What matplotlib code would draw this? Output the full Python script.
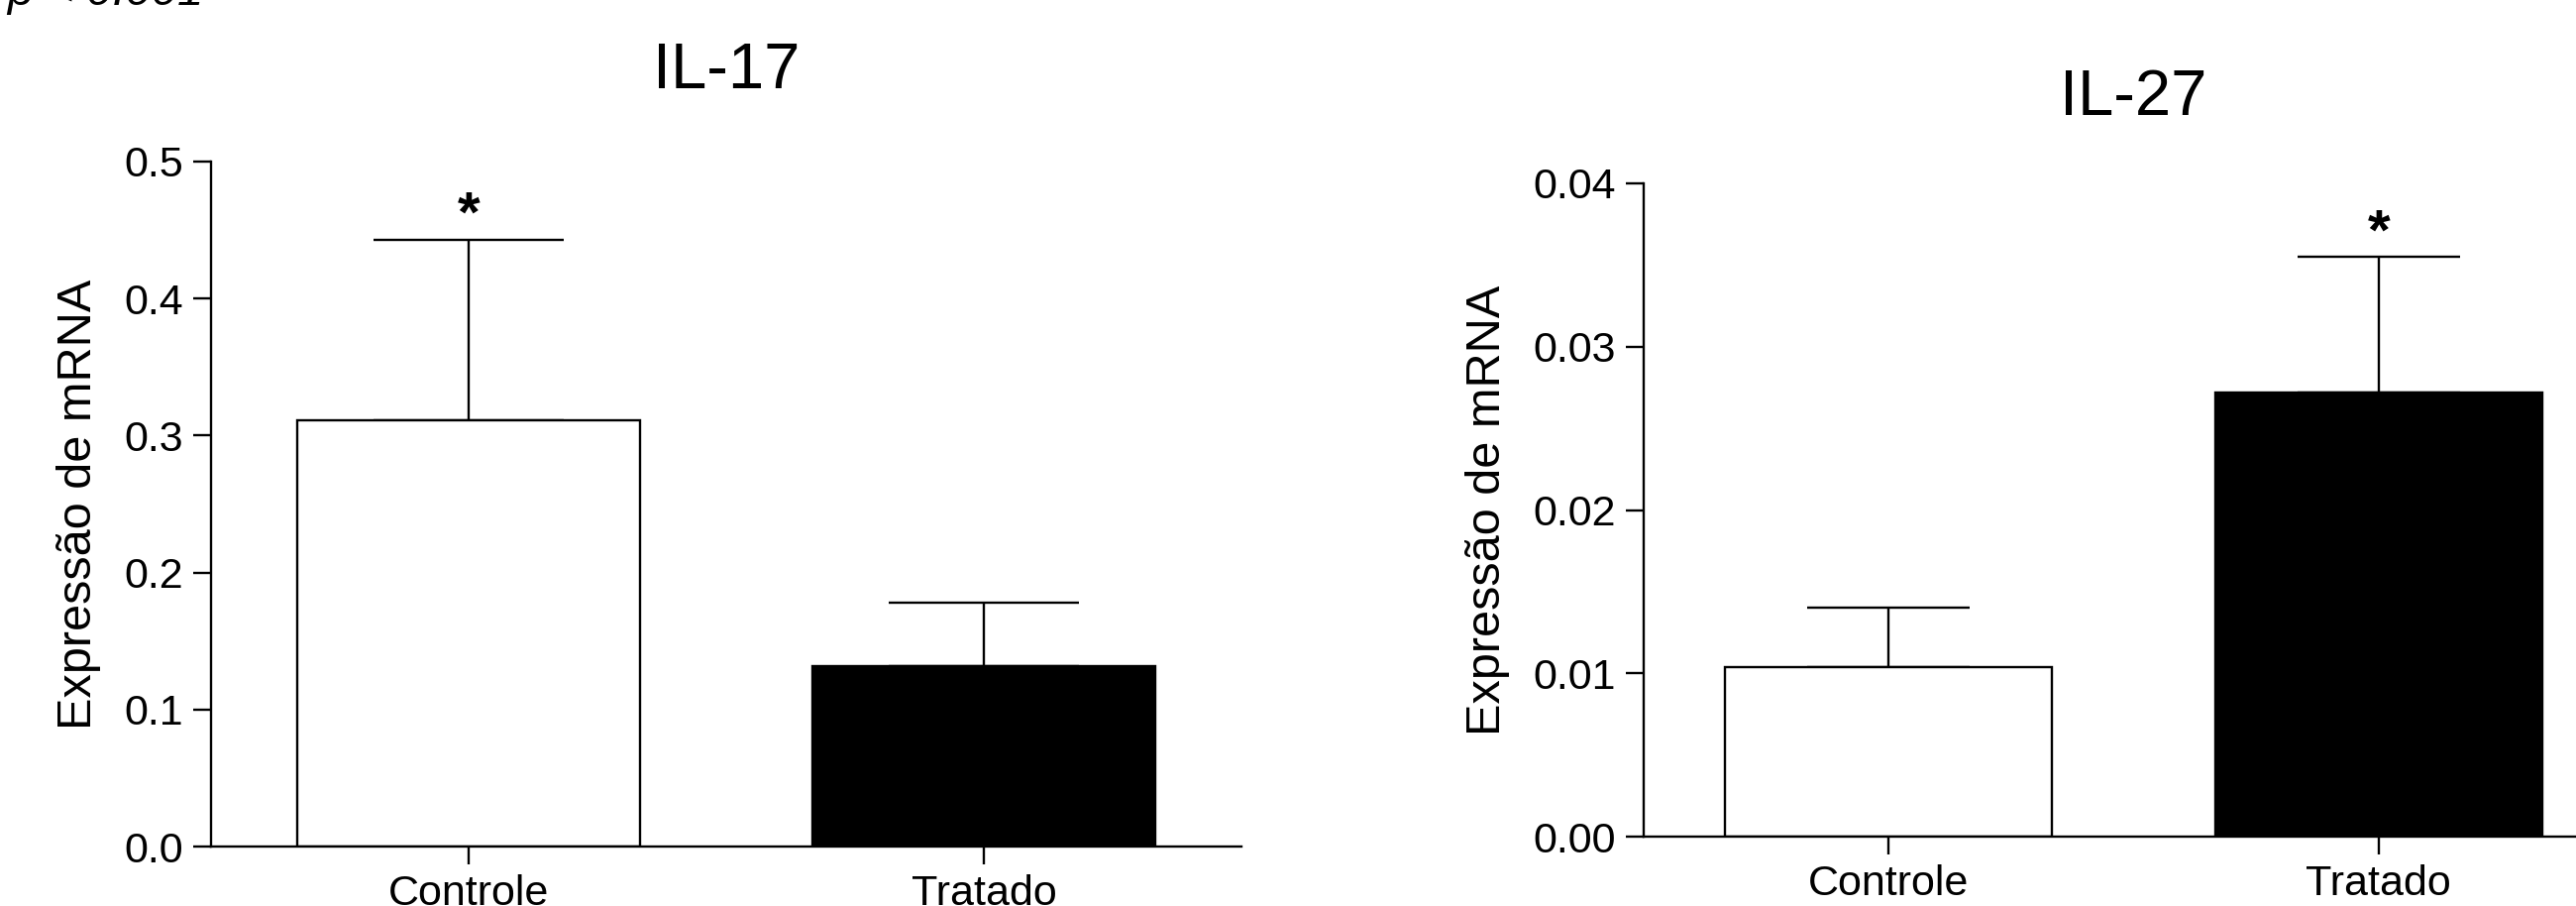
import matplotlib
matplotlib.use("Agg")
import matplotlib.pyplot as plt

plt.rcParams['font.family'] = ['Liberation Sans', 'DejaVu Sans']

groups = ["Controle", "Tratado"]
il17_mean = [0.311, 0.132]
il17_err = [0.132, 0.046]
il27_mean = [0.0104, 0.0272]
il27_err = [0.0036, 0.0083]
colors = ["white", "black"]
sig_il17 = ["*", ""]
sig_il27 = ["", "*"]
il17_ticks = [0.0, 0.1, 0.2, 0.3, 0.4, 0.5]
il27_ticks = [0.00, 0.01, 0.02, 0.03, 0.04]

W, H = 2600, 914
fig = plt.figure(figsize=(W / 100, H / 100), dpi=100)

lw = 1.7

def panel(rect, means, errs, sig, ticks, fmt, title, ylim, capsize, title_pad):
    ax = fig.add_axes(rect)
    x = list(range(len(groups)))
    ax.bar(x, means, width=0.667, color=colors, edgecolor="black", linewidth=lw, zorder=2)
    ax.errorbar(x, means, yerr=[[0] * len(errs), errs], fmt="none", ecolor="black",
                elinewidth=lw, capsize=capsize, capthick=lw, zorder=1)
    for xi, m, e, s in zip(x, means, errs, sig):
        if s:
            ax.annotate(s, (xi, m + e), xytext=(0, -3), textcoords="offset points",
                        ha="center", va="bottom", fontsize=42, fontweight="bold")
    ax.set_xlim(-0.5, 1.5)
    ax.set_ylim(*ylim)
    ax.set_yticks(ticks)
    ax.set_yticklabels([fmt.format(t) for t in ticks])
    ax.set_xticks(x)
    ax.set_xticklabels(groups)
    for sp in ["top", "right"]:
        ax.spines[sp].set_visible(False)
    for sp in ["left", "bottom"]:
        ax.spines[sp].set_linewidth(lw)
    ax.tick_params(axis="both", direction="out", length=13, width=lw, labelsize=31, pad=7)
    ax.set_ylabel("Expressão de mRNA", fontsize=35, labelpad=17)
    ax.set_title(title, fontsize=47, pad=title_pad)
    return ax

panel([213 / W, 60 / H, 1040 / W, 691 / H], il17_mean, il17_err, sig_il17, il17_ticks,
      "{:.1f}", "IL-17", (0, 0.5), 69, 53)
panel([1659 / W, 70 / H, 989 / W, 659 / H], il27_mean, il27_err, sig_il27, il27_ticks,
      "{:.2f}", "IL-27", (0, 0.04), 59, 50)

fig.text(7 / W, 1 - 5 / H, "p < 0.001", fontsize=34, style="italic",
         ha="left", va="baseline")

fig.savefig("out.png", dpi=100)
